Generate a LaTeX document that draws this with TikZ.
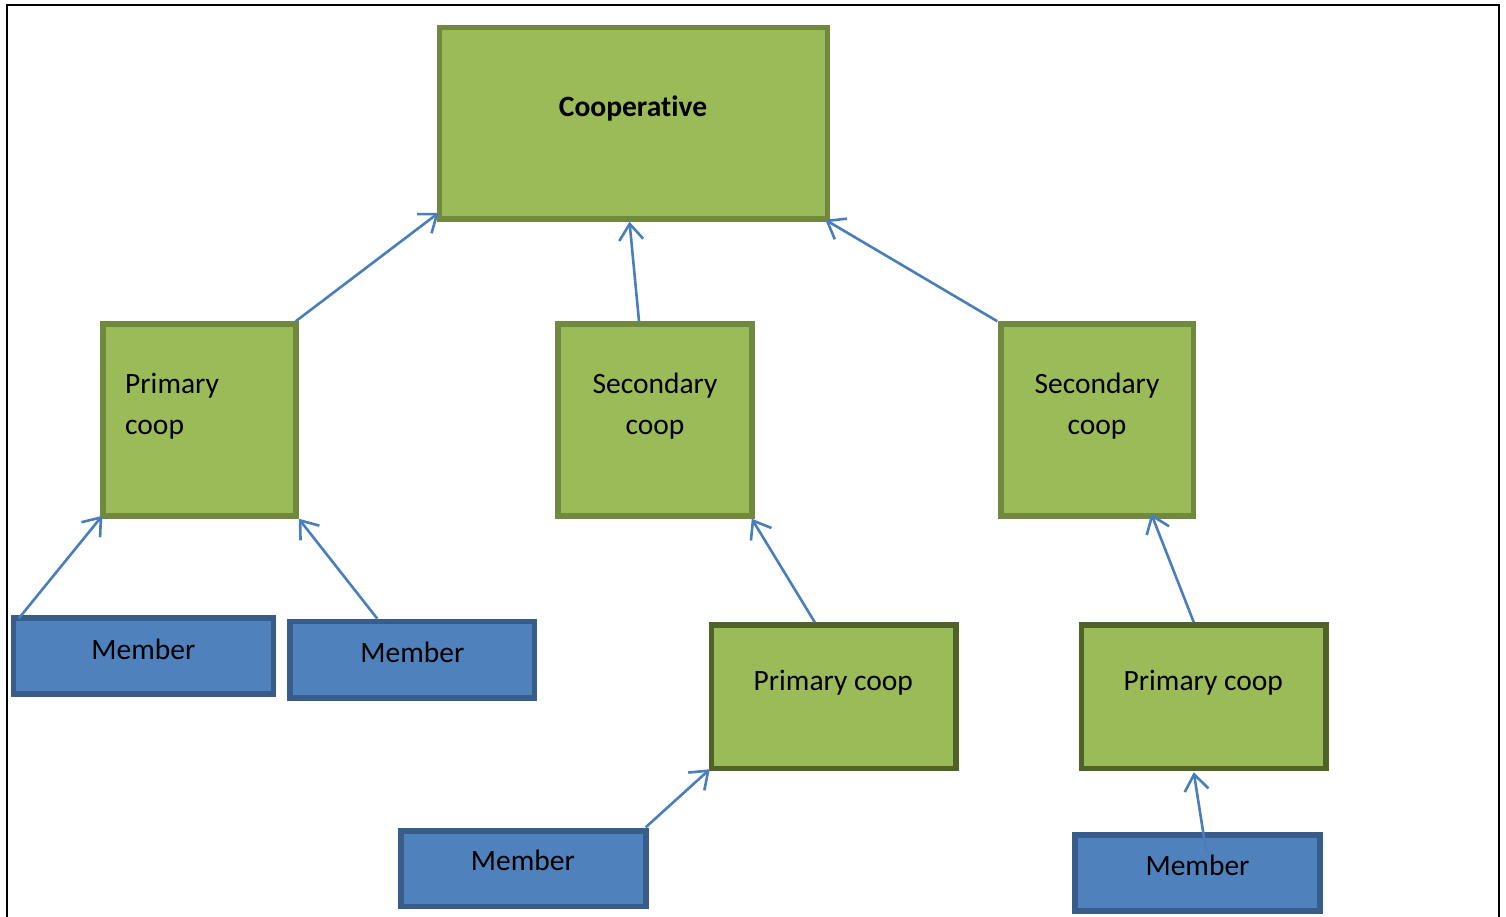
\documentclass[tikz,border=0pt]{standalone}
\usepackage{fontspec}
\setmainfont{Carlito}[Ligatures=CommonOff]
\usetikzlibrary{arrows.meta}
\definecolor{leaf}{HTML}{9BBB59}
\definecolor{leafedge}{HTML}{71893F}
\definecolor{leafdark}{HTML}{4F6228}
\definecolor{sea}{HTML}{4F81BD}
\definecolor{seaedge}{HTML}{385D8A}
\definecolor{link}{HTML}{4A7EBB}
\tikzset{
  gbox/.style={draw=leafedge, fill=leaf, line width=5.5pt, inner sep=0pt, rectangle},
  gboxdark/.style={gbox, draw=leafdark},
  mbox/.style={draw=seaedge, fill=sea, line width=5.5pt, inner sep=0pt, rectangle},
  lbl/.style={anchor=base, inner sep=0pt, font=\fontsize{29.5}{35}\selectfont},
  up/.style={draw=link, line width=2.6pt,
    -{Straight Barb[length=16pt, width=24pt, line width=2.6pt]}},
}
\begin{document}
\begin{tikzpicture}[x=1pt, y=-1pt]
\useasboundingbox (0,0) rectangle (1506,917);
% open frame
\draw[line width=2pt] (7,917) -- (7,5.2) -- (1498.7,5.2) -- (1498.7,917);

% boxes
\node[gbox, minimum width=388pt, minimum height=191.5pt] (coop) at (633.5,123.25) {};
\node[gbox, minimum width=193pt, minimum height=192pt] (p1) at (199.5,420) {};
\node[gbox, minimum width=194pt, minimum height=192pt] (sec1) at (655,420) {};
\node[gbox, minimum width=192.5pt, minimum height=192pt] (sec2) at (1097.25,420) {};
\node[gboxdark, minimum width=244.5pt, minimum height=143.5pt] (pc1) at (833.75,696.75) {};
\node[gboxdark, minimum width=244.5pt, minimum height=143.5pt] (pc2) at (1203.75,696.75) {};
\node[mbox, minimum width=260pt, minimum height=76pt] (m1) at (143.5,656.2) {};
\node[mbox, minimum width=244.2pt, minimum height=76.7pt] (m2) at (412.3,659.8) {};
\node[mbox, minimum width=245pt, minimum height=75.5pt] (m3) at (523.5,868.75) {};
\node[mbox, minimum width=245pt, minimum height=76pt] (m4) at (1197.5,873) {};

% labels
\node[lbl, font=\fontsize{29.5}{35}\selectfont\bfseries] (tcoop) at (633,116.7) {Cooperative};
\node[lbl, anchor=base west] (tp1a) at (125,393.3) {Primary};
\node[lbl, anchor=base west] (tp1b) at (125,434) {coop};
\node[lbl] (ts1a) at (655,393.3) {Secondary};
\node[lbl] (ts1b) at (655,434) {coop};
\node[lbl] (ts2a) at (1097,393.3) {Secondary};
\node[lbl] (ts2b) at (1097,434) {coop};
\node[lbl] (tpc1) at (833.3,690.7) {Primary coop};
\node[lbl] (tpc2) at (1203.3,690.7) {Primary coop};
\node[lbl] (tm1) at (143.3,659.3) {Member};
\node[lbl] (tm2) at (412.3,662.3) {Member};
\node[lbl] (tm3) at (522.8,870) {Member};
\node[lbl] (tm4) at (1197.5,875) {Member};

% connectors, child to parent
\draw[up] ([xshift=-3pt]p1.north east) -- ([xshift=2pt,yshift=9pt]coop.south west);
\draw[up] ([xshift=-16pt]sec1.north) -- ([xshift=-4pt]coop.south);
\draw[up] ([xshift=-1pt]sec2.north west) -- ([xshift=-5pt,yshift=2pt]coop.south east);
\draw[up] ([xshift=8pt,yshift=-3pt]m1.north west) -- ([xshift=2pt,yshift=3pt]p1.south west);
\draw[up] ([xshift=-35pt]m2.north) -- (p1.south east);
\draw[up] ([xshift=-19pt]pc1.north) -- ([xshift=-3pt]sec1.south east);
\draw[up] ([xshift=-3pt,yshift=1pt]m3.north east) -- ([xshift=1pt,yshift=2pt]pc1.south west);
\draw[up] ([xshift=-10pt]pc2.north) -- ([xshift=54pt,yshift=5pt]sec2.south);
\draw[up] ([xshift=8.5pt,yshift=-18pt]m4.north) -- ([xshift=-10pt,yshift=-1pt]pc2.south);
\end{tikzpicture}
\end{document}
